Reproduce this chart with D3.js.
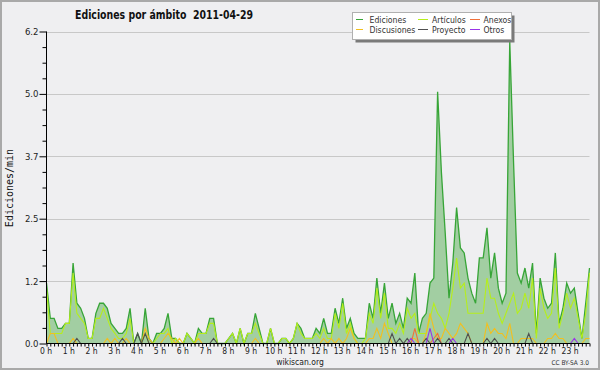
<!DOCTYPE html>
<html>
<head>
<meta charset="utf-8">
<script src="https://cdn.jsdelivr.net/npm/d3@7"></script>
<style>
html,body{margin:0;padding:0;background:#efeff1;}
svg{display:block;}
text{font-family:"DejaVu Sans",sans-serif;font-stretch:condensed;}
</style>
</head>
<body>
<svg id="chart" width="600" height="370"></svg>
<script>
// ---- data (edits per minute, one value per 10 minutes, 00:00 .. 23:50) ----
const ediciones = [
 1.2,0.5,0.5,0.3,0.3,0.4,0.4,1.6,0.8,0.7,
 0.5,0.1,0.1,0.6,0.8,0.8,0.7,0.4,0.3,0.2,
 0.2,0.3,0.7,0.0,0.2,0.0,0.7,0.1,0.0,0.2,
 0.2,0.3,0.6,0.1,0.1,0.0,0.0,0.2,0.1,0.0,
 0.3,0.2,0.2,0.5,0.5,0.0,0.0,0.0,0.1,0.2,
 0.0,0.3,0.0,0.2,0.2,0.6,0.3,0.0,0.0,0.3,
 0.0,0.0,0.1,0.1,0.0,0.1,0.4,0.3,0.1,0.1,
 0.1,0.3,0.2,0.5,0.2,0.2,0.7,0.4,0.9,0.3,
 0.5,0.2,0.1,0.1,0.1,0.8,0.5,1.3,0.6,1.2,
 0.5,0.8,0.4,0.6,0.3,0.9,0.8,1.4,0.2,0.5,
 0.6,1.2,1.3,5.0,3.4,2.2,0.9,1.6,2.7,1.9,
 1.8,1.3,1.0,0.8,1.7,1.7,2.3,1.3,1.8,1.1,
 0.8,1.0,6.0,3.6,1.4,1.2,1.5,1.1,1.6,0.2,
 1.3,0.9,0.7,0.8,1.8,0.4,0.7,1.2,1.0,1.1,
 0.6,0.1,0.8,1.5
];
const articulos = [
 1.1,0.2,0.2,0.2,0.2,0.4,0.4,1.4,0.6,0.5,
 0.4,0.1,0.1,0.5,0.5,0.7,0.5,0.3,0.2,0.1,
 0.1,0.2,0.5,0.0,0.0,0.0,0.2,0.0,0.0,0.1,
 0.2,0.2,0.3,0.0,0.1,0.0,0.0,0.2,0.1,0.0,
 0.2,0.2,0.2,0.4,0.4,0.0,0.0,0.0,0.1,0.2,
 0.0,0.3,0.0,0.2,0.2,0.4,0.2,0.0,0.0,0.3,
 0.0,0.0,0.1,0.1,0.0,0.1,0.4,0.2,0.1,0.1,
 0.1,0.2,0.1,0.3,0.1,0.1,0.6,0.3,0.8,0.2,
 0.4,0.1,0.0,0.0,0.1,0.6,0.4,1.1,0.5,1.0,
 0.3,0.3,0.2,0.4,0.2,0.7,0.5,0.6,0.2,0.2,
 0.2,0.5,0.8,0.6,0.5,0.3,0.6,1.1,1.7,1.1,
 1.2,0.6,0.6,0.6,0.6,0.6,1.3,0.9,0.9,0.6,
 0.4,0.6,0.8,1.0,0.6,0.7,1.0,0.7,1.3,0.1,
 1.1,0.7,0.5,0.6,1.5,0.3,0.6,1.0,0.7,0.9,
 0.5,0.1,0.6,1.4
];
const discusiones = [
 0.0,0.2,0.2,0.0,0.0,0.0,0.0,0.1,0.0,0.0,
 0.0,0.0,0.0,0.0,0.0,0.0,0.1,0.0,0.1,0.0,
 0.0,0.1,0.0,0.0,0.0,0.0,0.3,0.1,0.0,0.0,
 0.0,0.1,0.2,0.1,0.0,0.1,0.0,0.0,0.0,0.0,
 0.1,0.0,0.0,0.0,0.0,0.0,0.0,0.0,0.0,0.0,
 0.0,0.0,0.0,0.0,0.0,0.1,0.0,0.0,0.0,0.0,
 0.0,0.0,0.0,0.0,0.0,0.0,0.0,0.0,0.0,0.0,
 0.0,0.0,0.0,0.1,0.0,0.1,0.0,0.1,0.0,0.1,
 0.3,0.1,0.0,0.0,0.0,0.1,0.1,0.3,0.1,0.4,
 0.2,0.0,0.0,0.0,0.0,0.0,0.1,0.1,0.0,0.0,
 0.2,0.6,0.3,0.1,0.1,0.3,0.2,0.1,0.2,0.4,
 0.3,0.2,0.0,0.0,0.0,0.0,0.4,0.2,0.3,0.2,
 0.2,0.1,0.4,0.0,0.0,0.1,0.1,0.1,0.1,0.0,
 0.0,0.0,0.1,0.1,0.2,0.1,0.1,0.0,0.0,0.0,
 0.0,0.0,0.1,0.1
];
const anexos = [
 0,0,0,0,0,0,0,0,0,0, 0,0,0,0,0,0,0,0,0,0,
 0,0,0,0,0,0,0,0,0,0, 0,0,0,0,0,0,0,0,0,0,
 0,0,0,0,0,0,0,0,0,0, 0,0,0,0,0,0,0,0,0,0,
 0,0,0,0,0,0,0,0,0,0, 0,0,0,0,0,0,0,0,0,0,
 0,0,0,0,0,0,0,0,0,0, 0,0,0,0,0,0,0,0.3,0,0,
 0,0,0.1,0.2,0,0,0,0,0,0, 0,0,0,0,0,0,0,0,0,0,
 0,0,0,0,0,0,0,0,0,0, 0,0,0,0,0,0,0,0,0,0,
 0,0,0,0
];
const proyecto = [
 0,0,0,0,0,0,0,0,0.1,0, 0,0,0,0,0,0,0,0,0,0,
 0.1,0,0,0,0.2,0,0.2,0,0,0, 0,0,0,0,0,0,0,0,0,0,
 0,0,0,0,0.1,0,0,0,0,0, 0,0,0,0,0,0,0,0,0,0,
 0,0,0,0,0,0,0,0,0,0, 0,0,0,0,0,0,0,0,0,0,
 0,0,0,0,0,0,0,0,0,0, 0,0.2,0,0.1,0,0.1,0,0,0,0,
 0.1,0,0,0.1,0,0,0.1,0,0,0, 0,0.2,0,0,0,0,0.1,0,0.1,0,
 0,0,0,0,0,0,0,0.2,0,0, 0,0,0,0,0,0,0,0,0,0,
 0,0,0,0
];
const otros = [
 0,0,0,0,0,0,0,0,0,0, 0,0,0,0,0,0,0,0,0,0,
 0,0,0,0,0,0,0,0,0,0, 0,0,0,0,0,0,0,0,0,0,
 0,0,0,0,0,0,0,0,0,0, 0,0,0,0,0,0,0,0,0,0,
 0,0,0,0,0,0,0,0,0,0, 0,0,0,0,0,0,0,0,0,0,
 0,0,0,0,0,0,0,0,0,0, 0,0,0,0,0,0,0.1,0,0,0,
 0,0.3,0,0,0,0,0,0.1,0,0, 0,0,0,0,0,0,0,0,0,0,
 0,0,0,0,0,0,0,0,0,0, 0,0,0,0,0,0,0,0,0,0.1,
 0,0,0,0
];
const hourLabels = d3.range(24).map(h => h + " h");
const yTickValues = [0, 1.24, 2.48, 3.72, 4.96, 6.2];
const yTickLabels = ["0.0", "1.2", "2.5", "3.7", "5.0", "6.2"];
const legendLabels = ["Ediciones", "Artículos", "Anexos", "Discusiones", "Proyecto", "Otros"];
const titleText = "Ediciones por ámbito  2011-04-29";
const yAxisTitle = "Ediciones/min";

// ---- drawing ----
const W = 600, H = 370;
const svg = d3.select("#chart");
const colors = {
  Ediciones: "#37a537", Artículos: "#b6ee1c", Anexos: "#f0703a",
  Discusiones: "#f2bf1f", Proyecto: "#505050", Otros: "#9a35e8"
};
const seriesData = {
  Ediciones: ediciones, Artículos: articulos, Anexos: anexos,
  Discusiones: discusiones, Proyecto: proyecto, Otros: otros
};

svg.append("rect").attr("x", 1).attr("y", 1).attr("width", W - 2).attr("height", H - 2)
  .attr("fill", "#efeff1").attr("stroke", "#a9a9a9").attr("stroke-width", 2);

const x = d3.scaleLinear().domain([0, ediciones.length - 1]).range([46.5, 589.5]);
const y = d3.scaleLinear().domain([0, 6.2]).range([343.5, 31.5]);

// grid
svg.append("g").selectAll("line").data(yTickValues.slice(1)).join("line")
  .attr("x1", x(0)).attr("x2", x(ediciones.length - 1))
  .attr("y1", d => Math.round(y(d)) + 0.5).attr("y2", d => Math.round(y(d)) + 0.5)
  .attr("stroke", "#c8c8c8").attr("stroke-width", 1);

// Ediciones area + line
const idx = d3.range(ediciones.length);
svg.append("path").datum(idx)
  .attr("d", d3.area().x(i => x(i)).y0(y(0)).y1(i => y(ediciones[i])))
  .attr("fill", "#a2cea2");

const order = ["Ediciones", "Artículos", "Discusiones", "Anexos", "Proyecto", "Otros"];
order.forEach(name => {
  const vals = seriesData[name];
  svg.append("path").datum(idx)
    .attr("d", d3.line().x(i => x(i)).y(i => y(vals[i])))
    .attr("fill", "none")
    .attr("stroke", colors[name])
    .attr("stroke-width", name === "Ediciones" ? 1.3 : 1.1)
    .attr("stroke-linejoin", "miter");
});

// y axis
const yAxis = d3.axisLeft(y).tickValues(yTickValues)
  .tickFormat((d, i) => yTickLabels[i]).tickSize(7).tickPadding(1);
const gy = svg.append("g").attr("transform", "translate(" + 46.5 + ",0)").call(yAxis);
gy.select(".domain").attr("d", "M0," + y(6.2) + "V" + y(0)).attr("stroke", "#000");
gy.selectAll(".tick line").attr("stroke", "#000");
gy.selectAll(".tick text").attr("font-size", 9.5).attr("fill", "#222")
  .attr("font-family", "DejaVu Sans").style("font-stretch", "condensed");
const minorY = d3.range(0, 21).map(k => k * 0.31).filter(v => yTickValues.every(t => Math.abs(t - v) > 1e-6));
svg.append("g").attr("transform", "translate(46.5,0)")
  .call(d3.axisLeft(y).tickValues(minorY).tickSize(4).tickFormat(""))
  .call(g => g.select(".domain").remove())
  .selectAll(".tick line").attr("stroke", "#000");

// x axis
const gx = svg.append("g").attr("transform", "translate(0," + 343.5 + ")")
  .call(d3.axisBottom(x).tickValues(idx).tickSize(3).tickFormat(""));
gx.select(".domain").attr("d", "M" + x(0) + ",0H" + x(ediciones.length - 1)).attr("stroke", "#000");
gx.selectAll(".tick line").attr("stroke", "#000");
const gxl = svg.append("g").attr("transform", "translate(-1," + 343.5 + ")")
  .call(d3.axisBottom(x).tickValues(d3.range(24).map(h => h * 6)).tickSize(0).tickPadding(4)
    .tickFormat((d, i) => hourLabels[i]));
gxl.select(".domain").remove();
gxl.selectAll(".tick text").attr("font-size", 8.5).attr("fill", "#222")
  .attr("font-family", "DejaVu Sans").style("font-stretch", "condensed");

// y axis title
svg.append("text").attr("transform", "translate(13,188) rotate(-90)")
  .attr("text-anchor", "middle").attr("font-size", 10)
  .style("font-family", "'DejaVu Sans Mono', monospace").style("font-stretch", "normal")
  .attr("fill", "#111").text(yAxisTitle);

// title
svg.append("text").attr("x", 75).attr("y", 18.5)
  .attr("font-size", 12.5).attr("font-weight", "bold")
  .style("white-space", "pre")
  .attr("fill", "#111")
  .attr("textLength", 178).attr("lengthAdjust", "spacingAndGlyphs")
  .text(titleText);

// legend
const lg = svg.append("g");
lg.append("rect").attr("x", 355.5).attr("y", 15.5).attr("width", 159).attr("height", 27).attr("fill", "#7a7a7a");
lg.append("rect").attr("x", 352.5).attr("y", 12.5).attr("width", 159).attr("height", 27)
  .attr("fill", "#fff").attr("stroke", "#b0b0b0").attr("stroke-width", 1);
const colX = [356, 418, 470];
const colT = [369.5, 432, 483.5];
legendLabels.forEach((name, k) => {
  const c = k % 3, r = Math.floor(k / 3);
  const yy = 19.5 + r * 10;
  lg.append("line").attr("x1", colX[c]).attr("x2", colX[c] + (c === 0 ? 7 : 10))
    .attr("y1", yy).attr("y2", yy).attr("stroke", colors[name]).attr("stroke-width", 1);
  lg.append("text").attr("x", colT[c]).attr("y", yy + 3.3)
    .attr("font-size", 8.6).attr("fill", "#333").text(name);
});

// footer
svg.append("text").attr("x", 300).attr("y", 365).attr("text-anchor", "middle")
  .attr("font-size", 8.5).attr("fill", "#222").text("wikiscan.org");
svg.append("text").attr("x", 589).attr("y", 365).attr("text-anchor", "end")
  .attr("font-size", 6.5).attr("fill", "#333").text("CC BY-SA 3.0");
</script>
</body>
</html>
